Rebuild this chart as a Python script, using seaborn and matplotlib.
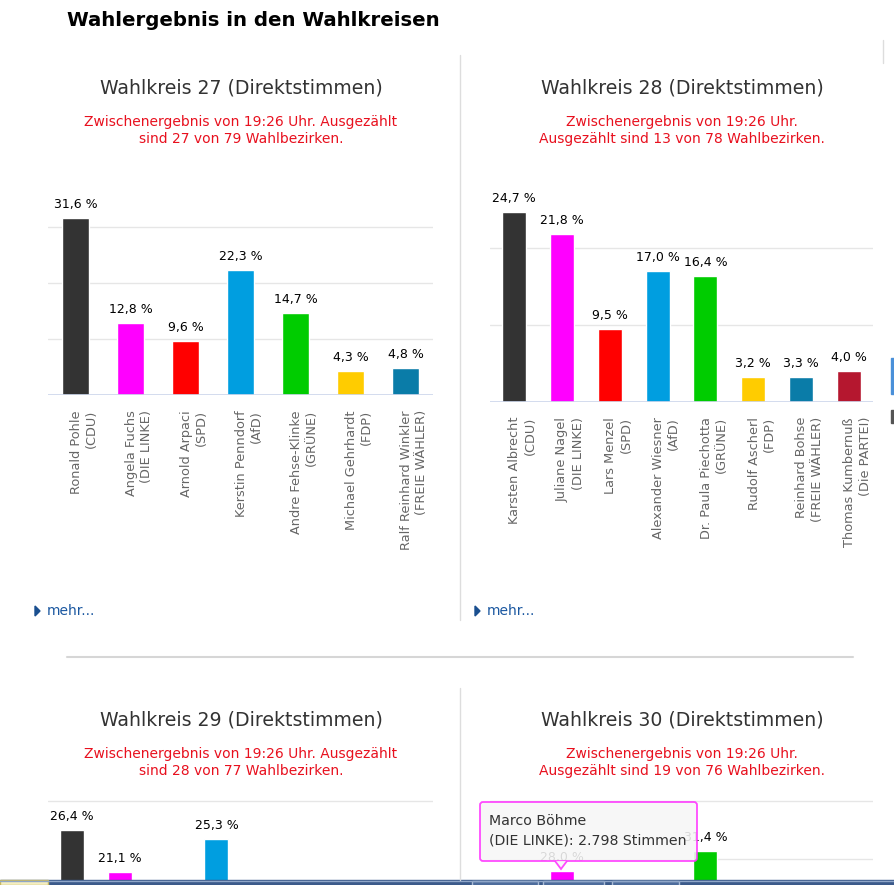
import matplotlib
matplotlib.use("Agg")
import matplotlib.pyplot as plt
import matplotlib.transforms as mtransforms
from matplotlib.patches import FancyBboxPatch, Polygon, Rectangle
import pandas as pd
import seaborn as sns

W, H = 894, 885

parties = ["CDU", "DIE LINKE", "SPD", "AfD", "GRÜNE", "FDP", "FREIE WÄHLER", "Die PARTEI"]
party_colors = ["#333333", "#ff00ff", "#ff0000", "#009ee0", "#00cc00", "#ffcc00", "#0a7ca8", "#b5172f"]

# Wahlkreis 27
wk27_names = ["Ronald Pohle\n(CDU)", "Angela Fuchs\n(DIE LINKE)", "Arnold Arpaci\n(SPD)",
              "Kerstin Penndorf\n(AfD)", "Andre Fehse-Klinke\n(GRÜNE)", "Michael Gehrhardt\n(FDP)",
              "Ralf Reinhard Winkler\n(FREIE WÄHLER)"]
wk27_values = [31.6, 12.8, 9.6, 22.3, 14.7, 4.3, 4.8]

# Wahlkreis 28
wk28_names = ["Karsten Albrecht\n(CDU)", "Juliane Nagel\n(DIE LINKE)", "Lars Menzel\n(SPD)",
              "Alexander Wiesner\n(AfD)", "Dr. Paula Piechotta\n(GRÜNE)", "Rudolf Ascherl\n(FDP)",
              "Reinhard Bohse\n(FREIE WÄHLER)", "Thomas Kumbernuß\n(Die PARTEI)"]
wk28_values = [24.7, 21.8, 9.5, 17.0, 16.4, 3.2, 3.3, 4.0]

# Wahlkreis 29 / 30: only the bars visible in the screenshot (rest cut off)
wk29_values = [26.4, 21.1, None, 25.3, None, None, None, None]
wk30_values = [None, 28.0, None, None, 31.4, None, None, None]

subtitles = [
    "Zwischenergebnis von 19:26 Uhr. Ausgezählt\nsind 27 von 79 Wahlbezirken.",
    "Zwischenergebnis von 19:26 Uhr.\nAusgezählt sind 13 von 78 Wahlbezirken.",
    "Zwischenergebnis von 19:26 Uhr. Ausgezählt\nsind 28 von 77 Wahlbezirken.",
    "Zwischenergebnis von 19:26 Uhr.\nAusgezählt sind 19 von 76 Wahlbezirken.",
]
titles = ["Wahlkreis 27 (Direktstimmen)", "Wahlkreis 28 (Direktstimmen)",
          "Wahlkreis 29 (Direktstimmen)", "Wahlkreis 30 (Direktstimmen)"]

sns.set_style("white")
plt.rcParams["font.family"] = ["DejaVu Sans"]

fig = plt.figure(figsize=(W / 100, H / 100), dpi=100)


def place_axes(x0, x1, base, px_per_unit, ymax):
    top = base - ymax * px_per_unit
    ax = fig.add_axes([x0 / W, 1 - base / H, (x1 - x0) / W, (base - top) / H])
    ax.set_ylim(0, ymax)
    return ax


def pct(v):
    return f"{v:.1f}".replace(".", ",") + " %"


def draw_chart(ax, values, ymax, gridticks, names=None):
    cats = parties[:len(values)]
    df = pd.DataFrame({"cat": cats, "val": values}).dropna()
    sns.barplot(data=df, x="cat", y="val", hue="cat", order=cats, hue_order=cats,
                palette=dict(zip(cats, party_colors)), width=0.5, legend=False,
                saturation=1, ax=ax)
    for c in ax.containers:
        ax.bar_label(c, fmt=pct, padding=5, fontsize=9, color="black")
    ax.set_ylim(0, ymax)
    ax.set_yticks(gridticks)
    ax.yaxis.grid(True, color="#e6e6e6", lw=1)
    ax.set_axisbelow(True)
    ax.axhline(0, color="#ccd6eb", lw=1.2, zorder=3)
    ax.tick_params(axis="both", length=0, labelleft=False, labelbottom=False)
    ax.set_xlabel("")
    ax.set_ylabel("")
    ax.set_facecolor("none")
    for s in ax.spines.values():
        s.set_visible(False)
    if names:
        trans = mtransforms.blended_transform_factory(ax.transData, ax.transAxes) + \
            mtransforms.ScaledTranslation(8.5 / 100, -15 / 100, fig.dpi_scale_trans)
        for i, lab in enumerate(names):
            ax.text(i, 0, lab, transform=trans, rotation=90, rotation_mode="anchor",
                    ha="right", va="center", fontsize=9.3, color="#666666",
                    linespacing=1.25)


ax1 = place_axes(48, 433, 395, 5.6, 40)
draw_chart(ax1, wk27_values, 40, [10, 20, 30], wk27_names)

ax2 = place_axes(490, 873, 402, 7.7, 30)
draw_chart(ax2, wk28_values, 30, [10, 20], wk28_names)

ax3 = place_axes(48, 433, 1041, 8.0, 31)
draw_chart(ax3, wk29_values, 31, [10, 20, 30])

ax4 = place_axes(490, 873, 1033, 5.8, 41)
draw_chart(ax4, wk30_values, 41, [10, 20, 30, 40])

# page overlay in pixel coordinates
ov = fig.add_axes([0, 0, 1, 1], zorder=5)
ov.set_xlim(0, W)
ov.set_ylim(H, 0)
ov.axis("off")

ov.text(67, 20, "Wahlergebnis in den Wahlkreisen", fontsize=14.2, fontweight="bold",
        color="black", ha="left", va="center")

centers = [(241, 88, 130.5), (682, 88, 130.5), (241, 720, 762.5), (682, 720, 762.5)]
for (cx, ty, sy), t, s in zip(centers, titles, subtitles):
    ov.text(cx, ty, t, fontsize=13.6, color="#333333", ha="center", va="center")
    ov.text(cx, sy, s, fontsize=10, color="#e8101e", ha="center", va="center",
            multialignment="center", linespacing=1.3)

# separators
ov.plot([460, 460], [55, 620], color="#dddddd", lw=1)
ov.plot([460, 460], [688, 880], color="#dddddd", lw=1)
ov.plot([67, 853], [657, 657], color="#d6d6d6", lw=1.5)
ov.plot([883, 883], [40, 63], color="#dddddd", lw=1)

# "mehr..." links
for x in (35, 475):
    ov.add_patch(Polygon([(x, 606), (x + 5, 611), (x, 616)], closed=True, color="#1a4f8f"))
    ov.text(x + 12, 611, "mehr...", fontsize=10, color="#1a57a0", ha="left", va="center")

# tooltip
tip = FancyBboxPatch((480, 802), 217, 59, boxstyle="round,pad=0,rounding_size=3",
                     fc="#f7f7f7", ec="#ff33ff", lw=1.3, alpha=0.88)
ov.add_patch(tip)
ov.add_patch(Polygon([(555, 861), (561, 869), (567, 861)], closed=False,
                     fc="#f7f7f7", ec="#ff33ff", lw=1.3, alpha=0.88))
ov.text(489, 821, "Marco Böhme", fontsize=10.2, color="#333333", ha="left", va="center")
ov.text(489, 840, "(DIE LINKE): 2.798 Stimmen", fontsize=10.2, color="#333333",
        ha="left", va="center")

# right edge page widgets
ov.add_patch(Rectangle((891, 358), 3, 36, color="#4a90d9"))
ov.add_patch(Rectangle((891, 410), 3, 13, color="#555555"))

# taskbar strip at bottom
ov.add_patch(Rectangle((0, 880), W, 5, color="#3b5a8a"))
ov.plot([0, W], [880.5, 880.5], color="#8fa6c8", lw=1)
ov.add_patch(Rectangle((0, 880), 48, 5, fc="#f4eec0", ec="#c8b860", lw=1))
for x0, x1 in [(472, 538), (543, 604), (612, 679)]:
    ov.add_patch(Rectangle((x0, 881), x1 - x0, 5, fc="#4d6c9c", ec="#a9bbd6", lw=1))

fig.savefig("out.png", dpi=100)
